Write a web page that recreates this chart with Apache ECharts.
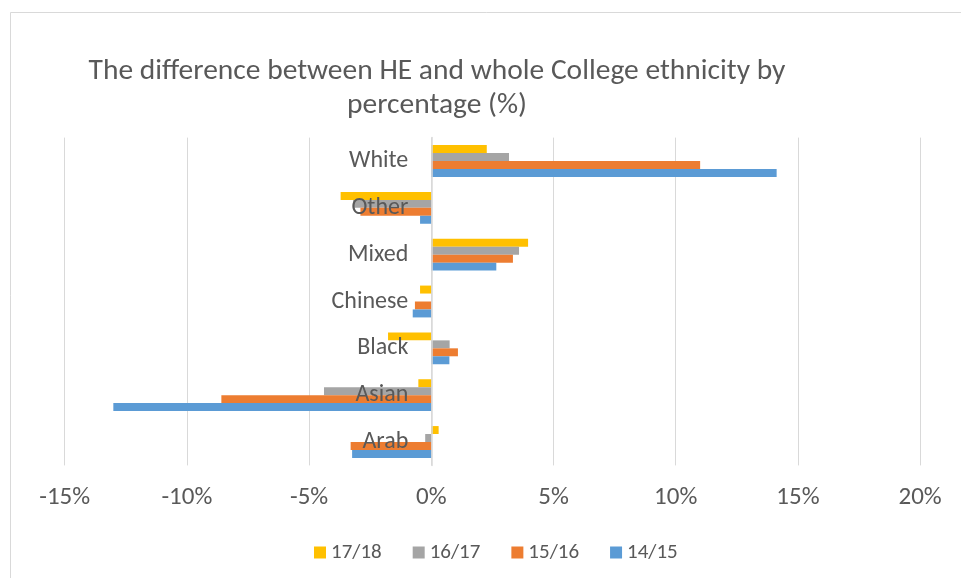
<!DOCTYPE html>
<html>
<head>
<meta charset="utf-8">
<script src="https://cdn.jsdelivr.net/npm/echarts@6/dist/echarts.min.js"></script>
<style>
  html, body { margin: 0; padding: 0; background: #fff; }
  #chart { width: 961px; height: 578px; }
</style>
</head>
<body>
<div id="chart"></div>
<script>
// Ethnic groups, bottom to top
const categories = ['Arab', 'Asian', 'Black', 'Chinese', 'Mixed', 'Other', 'White'];

// Difference between HE and whole College share, in percentage points
const y1415 = [-3.24, -13.01, 0.74, -0.76, 2.66, -0.46, 14.13];
const y1516 = [-3.30, -8.59, 1.09, -0.67, 3.34, -2.90, 11.00];
const y1617 = [-0.25, -4.39, 0.75, 0.00, 3.59, -3.20, 3.18];
const y1718 = [0.30, -0.53, -1.77, -0.46, 3.96, -3.71, 2.27];

// Series listed top-of-group first
const seriesNames = ['17/18', '16/17', '15/16', '14/15'];
const xTicks = { min: -15, max: 20, step: 5 };

const palette = ['#FFC000', '#A5A5A5', '#ED7D31', '#5B9BD5'];
const values = [y1718, y1617, y1516, y1415];
const textColor = '#595959';
const fontFamily = 'Calibri, Carlito, Lato, "Open Sans", sans-serif';

const gridLeft = 64.7, gridRight = 40.9, width = 961;
const plotWidth = width - gridLeft - gridRight;
// pixel distance from the plot's left edge to the zero line
const zeroOffset = plotWidth * (0 - xTicks.min) / (xTicks.max - xTicks.min);

const chart = echarts.init(document.getElementById('chart'), null, { renderer: 'canvas' });

chart.setOption({
  backgroundColor: '#ffffff',
  animation: false,
  textStyle: { fontFamily: fontFamily },
  graphic: [{
    type: 'rect',
    shape: { x: 10.5, y: 12.5, width: 960, height: 600 },
    style: { fill: 'none', stroke: '#d9d9d9', lineWidth: 1 },
    silent: true,
    z: -10
  }],
  title: {
    text: 'The difference between HE and whole College ethnicity by\npercentage (%)',
    left: 432,
    textAlign: 'center',
    top: 50,
    textStyle: {
      color: textColor,
      fontSize: 29.5,
      fontWeight: 300,
      lineHeight: 34,
      fontFamily: fontFamily
    }
  },
  legend: {
    data: seriesNames,
    top: 537,
    left: 309,
    icon: 'rect',
    itemWidth: 12,
    itemHeight: 12,
    itemGap: 31,
    textStyle: { color: textColor, fontSize: 21, fontFamily: fontFamily }
  },
  grid: {
    left: gridLeft,
    right: gridRight,
    top: 137.6,
    bottom: 112.6,
    containLabel: false,
    outerBoundsMode: 'none'
  },
  xAxis: {
    type: 'value',
    min: xTicks.min,
    max: xTicks.max,
    interval: xTicks.step,
    axisLine: { show: false },
    axisTick: { show: false },
    splitLine: { show: true, lineStyle: { color: '#d9d9d9', width: 1 } },
    axisLabel: {
      formatter: '{value}%',
      color: textColor,
      fontSize: 25,
      margin: 20,
      fontFamily: fontFamily
    }
  },
  yAxis: {
    type: 'category',
    data: categories,
    position: 'left',
    offset: -zeroOffset,
    z: 5,
    axisLine: { show: true, onZero: false, lineStyle: { color: '#d9d9d9', width: 1.5 } },
    axisTick: { show: false },
    splitLine: { show: false },
    axisLabel: {
      color: textColor,
      fontSize: 24,
      margin: 23,
      padding: [4, 0, 0, 0],
      fontFamily: fontFamily
    }
  },
  series: seriesNames.map((name, i) => ({
    name: name,
    type: 'bar',
    data: values[i],
    barGap: '0%',
    barCategoryGap: '32%',
    itemStyle: { color: palette[i] },
    emphasis: { disabled: true }
  }))
});
</script>
</body>
</html>
